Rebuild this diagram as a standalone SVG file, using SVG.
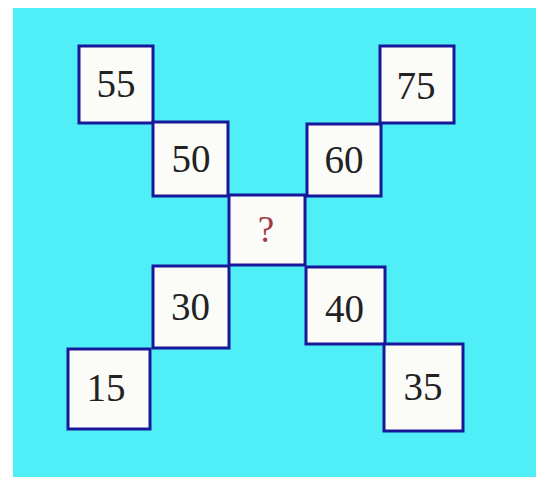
<svg xmlns="http://www.w3.org/2000/svg" width="536" height="477" viewBox="0 0 536 477">
<style>
.box{fill:#fbfbf8;stroke:#18189a;stroke-width:3}
.num{font-family:"Liberation Serif","Times New Roman",serif;font-size:39px;fill:#222;text-anchor:middle}
.q{fill:#a03a48;font-size:37px}
</style>
<rect x="0" y="0" width="536" height="477" fill="#ffffff"/>
<rect x="13" y="8" width="523" height="469" fill="#50eff7"/>
<g id="n55"><rect class="box" x="79" y="46" width="74" height="77"/><text class="num" x="116" y="97">55</text></g>
<g id="n75"><rect class="box" x="380" y="46" width="74" height="77"/><text class="num" x="416" y="99">75</text></g>
<g id="n50"><rect class="box" x="153" y="122" width="75" height="74"/><text class="num" x="191" y="172">50</text></g>
<g id="n60"><rect class="box" x="307" y="124" width="74" height="72"/><text class="num" x="344" y="173">60</text></g>
<g id="nq"><rect class="box" x="229" y="195" width="76" height="70"/><text class="num q" x="266" y="242">?</text></g>
<g id="n30"><rect class="box" x="153" y="266" width="76" height="82"/><text class="num" x="190.5" y="320">30</text></g>
<g id="n40"><rect class="box" x="306" y="267" width="79" height="77"/><text class="num" x="344.5" y="322">40</text></g>
<g id="n15"><rect class="box" x="68" y="349" width="82" height="80"/><text class="num" x="106" y="401">15</text></g>
<g id="n35"><rect class="box" x="384" y="344" width="79" height="87"/><text class="num" x="423" y="400">35</text></g>
<g id="connectors"></g>
</svg>
